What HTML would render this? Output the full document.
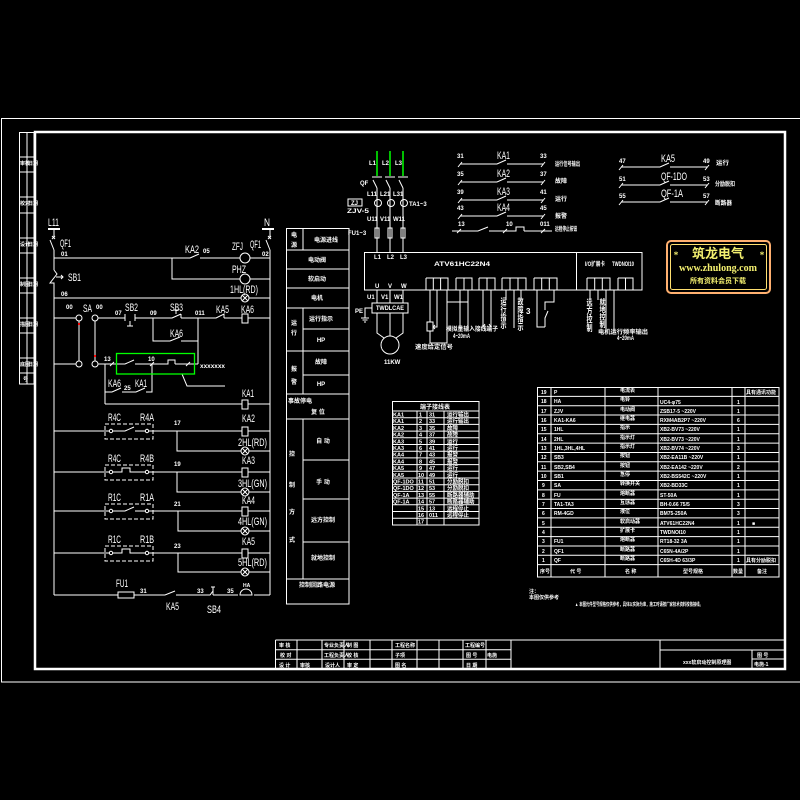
<!DOCTYPE html>
<html><head><meta charset="utf-8"><style>
html,body{margin:0;padding:0;background:#000;}
svg{display:block}
.t{font-family:"Liberation Sans","Noto Sans CJK SC",sans-serif;fill:#fff;font-size:11px}
.s{font-family:"Liberation Sans","Noto Sans CJK SC",sans-serif;fill:#fff;font-size:6px;font-weight:bold}
.c{font-family:"Liberation Sans","Noto Sans CJK SC",sans-serif;fill:#fff;font-size:6px;font-weight:bold}
</style></head><body>
<svg width="800" height="800" viewBox="0 0 800 800" xmlns="http://www.w3.org/2000/svg">
<rect width="800" height="800" fill="#000"/>
<g stroke="#fff" fill="none" stroke-width="1">
<!-- frames -->
<rect x="1.5" y="118.5" width="800" height="563.5"/>
<rect x="35" y="132" width="750" height="537" stroke-width="2.5"/>
<!-- left strip -->
<rect x="19.5" y="132.5" width="14.5" height="251.5"/>
<line x1="27" y1="132" x2="27" y2="384"/>
<path d="M19.5 157H34 M19.5 172H34 M19.5 197H34 M19.5 213H34 M19.5 238H34 M19.5 253H34 M19.5 278H34 M19.5 293H34 M19.5 318H34 M19.5 333H34 M19.5 358H34 M19.5 373H34"/>

<!-- ===== ladder ===== -->
<line x1="48" y1="229" x2="60" y2="229" stroke-width="2"/>
<line x1="262" y1="229" x2="274" y2="229" stroke-width="2"/>
<path d="M54 229V238 M54 250L50 240 M52 236l3 3 M55 236l-3 3 M54 250V270 M54 270L57 274L50 283H54V287 M56 277H63 M61 275L63 277L61 279 M54 287V595"/>
<path d="M270 229V238 M270 250L266 240 M268 236l3 3 M271 236l-3 3 M270 250V595"/>
<!-- row 258 -->
<path d="M54 258H190 M190 258L199 254 M200 258H240 M250 258H270"/>
<circle cx="245" cy="258" r="5"/>
<path d="M172 258V279H240 M250 279H270"/>
<circle cx="245" cy="279" r="5"/>
<path d="M54 298H241 M249 298H270"/>
<circle cx="245" cy="298" r="4"/>
<path d="M242 295L248 301 M248 295L242 301"/>
<!-- row 318 -->
<path d="M54 318H76 M98 318H125 M125 314V321 M135 314V321 M130 321V326 M127 326H133 M135 318H172 M172 318L181 314 M181 314V318 M176 314V310 M174 310H179 M181 318H216 M216 318L224 314V318 M224 318H242 M248 318H270"/>
<circle cx="79" cy="318" r="3"/><circle cx="95" cy="318" r="3"/>
<rect x="242" y="314" width="6" height="9"/>
<path d="M153 318V341H170 L180 337 M181 341H198 M198 318V364"/>
<path d="M79 321V361 M95 321V361"/>
<circle cx="79" cy="364" r="3"/><circle cx="95" cy="364" r="3"/>
<path d="M54 364H76 M98 364H125 L134 360 M135 364H168 V360H175V364 M175 364H198"/>
<path d="M110 366l4-4 M150 366l4-4 M186 366l4-4"/>
<path d="M182 374L187 386H225"/>
<path d="M105 364V404 M105 392H112 L121 388 M122 392H136 L145 388 M146 392H152V364"/>
<path d="M105 404H242 M248 404H270"/>
<rect x="242" y="400" width="6" height="9"/>
<!-- R rows -->
<path d="M54 431H109 M113 431H125 L134 427 M135 431H145 M149 431H242 M248 431H270 M177 431V451H241 M249 451H270"/>
<circle cx="111" cy="431" r="1.7"/><circle cx="147" cy="431" r="1.7"/>
<rect x="242" y="427" width="6" height="9"/>
<circle cx="245" cy="451" r="4"/><path d="M242 448L248 454 M248 448L242 454"/>
<rect x="105" y="424" width="48" height="15" stroke-dasharray="4 2"/>

<path d="M54 472H109 M113 472H122 V468H130V472H145 M149 472H242 M248 472H270 M177 472V492H241 M249 492H270"/>
<circle cx="111" cy="472" r="1.7"/><circle cx="147" cy="472" r="1.7"/>
<rect x="242" y="468" width="6" height="9"/>
<circle cx="245" cy="492" r="4"/><path d="M242 489L248 495 M248 489L242 495"/>
<rect x="105" y="465" width="48" height="15" stroke-dasharray="4 2"/>

<path d="M54 511H109 M113 511H125 L134 507 M135 511H145 M149 511H242 M248 511H270 M178 511V531H241 M249 531H270"/>
<circle cx="111" cy="511" r="1.7"/><circle cx="147" cy="511" r="1.7"/>
<rect x="242" y="507" width="6" height="9"/>
<circle cx="245" cy="531" r="4"/><path d="M242 528L248 534 M248 528L242 534"/>
<rect x="105" y="504" width="48" height="15" stroke-dasharray="4 2"/>

<path d="M54 553H109 M113 553H122 V549H130V553H145 M149 553H242 M248 553H270 M178 553V572H241 M249 572H270"/>
<circle cx="111" cy="553" r="1.7"/><circle cx="147" cy="553" r="1.7"/>
<rect x="242" y="549" width="6" height="9"/>
<circle cx="245" cy="572" r="4"/><path d="M242 569L248 575 M248 569L242 575"/>
<rect x="105" y="546" width="48" height="15" stroke-dasharray="4 2"/>
<!-- bottom row -->
<path d="M54 595H118 M134 595H165 L175 591 M176 595H208 M208 595H210 L213 591 V595 M213 591V587 M211 587H215 M213 595H238 M254 595H270"/>
<rect x="118" y="592" width="16" height="6"/>
<path d="M240 595A6 6 0 0 1 252 595Z"/>

<!-- ===== middle table ===== -->
<rect x="286.5" y="228.5" width="62.5" height="375.5"/>
<path d="M286 250H349 M286 269H349 M286 288H349 M286 308H349 M286 351H349 M286 394H349 M286 419H349 M286 579H349"/>
<path d="M303 329H349 M303 375H349 M303 460H349 M303 499H349 M303 542H349"/>
<path d="M303 228V250 M303 308V394 M303 419V579"/>

<!-- terminal table -->
<rect x="392.5" y="401.5" width="86.5" height="123.5"/>
<path d="M392 411H479 M392 417.7H479 M392 424.4H479 M392 431.1H479 M392 437.8H479 M392 444.5H479 M392 451.2H479 M392 457.9H479 M392 464.6H479 M392 471.3H479 M392 478H479 M392 484.7H479 M392 491.4H479 M392 498.1H479 M392 504.8H479 M392 511.5H479 M392 518.2H479"/>
<path d="M417 411V525 M427 411V525 M444 411V525"/>

<!-- parts table -->
<rect x="537.5" y="387.5" width="241.5" height="189.5"/>
<path d="M537 396.35H779 M537 405.7H779 M537 415.05H779 M537 424.4H779 M537 433.75H779 M537 443.1H779 M537 452.45H779 M537 461.8H779 M537 471.15H779 M537 480.5H779 M537 489.85H779 M537 499.2H779 M537 508.55H779 M537 517.9H779 M537 527.25H779 M537 536.6H779 M537 545.95H779 M537 555.3H779 M537 564.65H779"/>
<path d="M551 387V577 M605 387V577 M658 387V577 M732 387V577 M745 387V577"/>

<!-- title block -->
<path d="M275.5 640H785 M275.5 640V669 M275.5 649.7H511 M275.5 659.3H511 M297 640V669 M322 640V669 M344 640V669 M370 640V669 M392 640V669 M417 640V669 M439 640V669 M463 640V669 M486 640V669 M511 640V669 M660 640V669 M660 650H785 M752 650V669 M752 659H785"/>

<!-- ===== power circuit ===== -->
<path d="M377 151V176 M390 151V176 M403 151V176" stroke="#00ff00" stroke-width="1.5"/>
<path d="M372 177H382 M385 177H395 M398 177H408"/>
<path d="M377 188L373 180 M390 188L386 180 M403 188L399 180"/>
<path d="M377 188V252 M390 188V252 M403 188V252"/>
<circle cx="378" cy="203" r="3.5"/><circle cx="391" cy="203" r="3.5"/><circle cx="404" cy="203" r="3.5"/>
<rect x="375" y="228" width="4" height="10"/><rect x="388" y="228" width="4" height="10"/><rect x="401" y="228" width="4" height="10"/>
<rect x="348" y="199" width="14" height="7"/>
<!-- soft starter box -->
<rect x="364.5" y="252.5" width="277.5" height="37.5"/>
<line x1="576.5" y1="252" x2="576.5" y2="290"/>
<path d="M426 278H448V290 M433.3 278V290 M440.6 278V290 M426 278V290 M456 278H472V290 M464 278V290 M456 278V290 M479 278H495V290 M487 278V290 M479 278V290 M502 278H526V290 M510 278V290 M518 278V290 M502 278V290 M534 278H557V290 M541.7 278V290 M549.3 278V290 M534 278V290 M587 278H610V290 M594.7 278V290 M602.3 278V290 M587 278V290 M618 278H633V290 M625.5 278V290 M618 278V290"/>
<path d="M377 290V303 M390 290V303 M403 290V303"/>
<rect x="372" y="303" width="36" height="10"/>
<path d="M377 313V333L384 338 M390 313V336 M403 313V333L396 338"/>
<circle cx="390" cy="345" r="9"/>
<path d="M372 308H365V318 M361 318H369 M362.5 320H367.5 M364 322H366"/>
<!-- control wiring -->
<path d="M430 290V322 M427 322H433V331H427Z M430 331V343H447V290 M437 290V327H434 M433 327l2-2 M433 327l2 2"/>
<path d="M447 302H468 M460 290V328 M468 290V328 M483 290V327 M491 290V327 M483 327l2-3 M491 327l-2-3"/>
<path d="M506 290V300 M521 290V300 M514 290V328 M537 290V327H545 M545 327V318 L548 311 M545 310V302H554V290"/>
<path d="M590 290V300 M598 290V300 M606 290V332 M614 290V332"/>

<!-- relay output rows -->
<path d="M460 164H497 L506 160 M507 164H543 M460 182H497 L506 178 M507 182H543 M460 200H497 L506 196 M507 200H543 M460 216H497 L506 212 M507 216H543"/>
<path d="M458 167l4-5 M541 167l4-5 M458 185l4-5 M541 185l4-5 M458 203l4-5 M541 203l4-5 M458 219l4-5 M541 219l4-5"/>
<path d="M452 231H478 L488 227 M489 231H516 V227H524V231 M524 231H552 M457 233l4-4 M503 233l4-4 M541 233l4-4"/>
<path d="M621 167H660 L669 163 M670 167H707 M621 185H660 L669 181 M670 185H707 M621 202H660 L669 198 M670 202H707"/>
<path d="M619 170l4-5 M705 170l4-5 M619 188l4-5 M705 188l4-5 M619 205l4-5 M705 205l4-5"/>
</g>

<!-- green highlight and red marks -->
<rect x="116.5" y="353.5" width="78" height="20.5" fill="none" stroke="#00ff00" stroke-width="1.3"/>
<rect x="78" y="323" width="2" height="2" fill="#ff0000"/>
<rect x="94" y="355" width="2" height="2" fill="#ff0000"/>

<!-- logo -->
<rect x="667" y="241" width="103" height="52" rx="4" fill="none" stroke="#ffb070" stroke-width="2"/>
<rect x="670.5" y="244.5" width="96" height="45" rx="2" fill="none" stroke="#ffe070" stroke-width="1"/>
<g font-family="'Liberation Serif','Noto Serif CJK SC',serif" font-weight="bold" fill="#f4f070" text-anchor="middle">
<text x="676" y="258" font-size="9">*</text>
<text x="762" y="258" font-size="9">*</text>
<text x="718" y="258" font-size="13" font-family="'Noto Sans CJK SC',sans-serif">筑龙电气</text>
<text x="718" y="271" font-size="10" textLength="78" lengthAdjust="spacingAndGlyphs">www.zhulong.com</text>
<text x="718" y="283" font-size="7" font-family="'Noto Sans CJK SC',sans-serif">所有资料会员下载</text>
</g>

<!-- ===== ladder labels ===== -->
<g class="t">
<text x="48" y="226" textLength="11" lengthAdjust="spacingAndGlyphs">L11</text>
<text x="264" y="226" textLength="6" lengthAdjust="spacingAndGlyphs">N</text>
<text x="60" y="247" textLength="11" lengthAdjust="spacingAndGlyphs">QF1</text>
<text x="185" y="253" textLength="14" lengthAdjust="spacingAndGlyphs">KA2</text>
<text x="232" y="250" textLength="11" lengthAdjust="spacingAndGlyphs">ZFJ</text>
<text x="250" y="248" textLength="11" lengthAdjust="spacingAndGlyphs">QF1</text>
<text x="232" y="273" textLength="14" lengthAdjust="spacingAndGlyphs">PHZ</text>
<text x="68" y="281" textLength="13" lengthAdjust="spacingAndGlyphs">SB1</text>
<text x="230" y="293" textLength="28" lengthAdjust="spacingAndGlyphs">1HL(RD)</text>
<text x="83" y="312" textLength="9" lengthAdjust="spacingAndGlyphs">SA</text>
<text x="125" y="311" textLength="13" lengthAdjust="spacingAndGlyphs">SB2</text>
<text x="170" y="311" textLength="13" lengthAdjust="spacingAndGlyphs">SB3</text>
<text x="216" y="313" textLength="13" lengthAdjust="spacingAndGlyphs">KA5</text>
<text x="241" y="313" textLength="13" lengthAdjust="spacingAndGlyphs">KA6</text>
<text x="170" y="337" textLength="13" lengthAdjust="spacingAndGlyphs">KA6</text>
<text x="108" y="387" textLength="13" lengthAdjust="spacingAndGlyphs">KA6</text>
<text x="135" y="387" textLength="12" lengthAdjust="spacingAndGlyphs">KA1</text>
<text x="242" y="397" textLength="12" lengthAdjust="spacingAndGlyphs">KA1</text>
<text x="108" y="421" textLength="13" lengthAdjust="spacingAndGlyphs">R4C</text>
<text x="140" y="421" textLength="14" lengthAdjust="spacingAndGlyphs">R4A</text>
<text x="242" y="422" textLength="13" lengthAdjust="spacingAndGlyphs">KA2</text>
<text x="238" y="446" textLength="29" lengthAdjust="spacingAndGlyphs">2HL(RD)</text>
<text x="108" y="462" textLength="13" lengthAdjust="spacingAndGlyphs">R4C</text>
<text x="140" y="462" textLength="14" lengthAdjust="spacingAndGlyphs">R4B</text>
<text x="242" y="464" textLength="13" lengthAdjust="spacingAndGlyphs">KA3</text>
<text x="238" y="487" textLength="29" lengthAdjust="spacingAndGlyphs">3HL(GN)</text>
<text x="108" y="501" textLength="13" lengthAdjust="spacingAndGlyphs">R1C</text>
<text x="140" y="501" textLength="14" lengthAdjust="spacingAndGlyphs">R1A</text>
<text x="242" y="504" textLength="13" lengthAdjust="spacingAndGlyphs">KA4</text>
<text x="238" y="525" textLength="29" lengthAdjust="spacingAndGlyphs">4HL(GN)</text>
<text x="108" y="543" textLength="13" lengthAdjust="spacingAndGlyphs">R1C</text>
<text x="140" y="543" textLength="14" lengthAdjust="spacingAndGlyphs">R1B</text>
<text x="242" y="545" textLength="13" lengthAdjust="spacingAndGlyphs">KA5</text>
<text x="238" y="566" textLength="29" lengthAdjust="spacingAndGlyphs">5HL(RD)</text>
<text x="116" y="587" textLength="12" lengthAdjust="spacingAndGlyphs">FU1</text>
<text x="166" y="610" textLength="13" lengthAdjust="spacingAndGlyphs">KA5</text>
<text x="207" y="613" textLength="14" lengthAdjust="spacingAndGlyphs">SB4</text>
<text x="497" y="159" textLength="13" lengthAdjust="spacingAndGlyphs">KA1</text>
<text x="497" y="177" textLength="13" lengthAdjust="spacingAndGlyphs">KA2</text>
<text x="497" y="195" textLength="13" lengthAdjust="spacingAndGlyphs">KA3</text>
<text x="497" y="211" textLength="13" lengthAdjust="spacingAndGlyphs">KA4</text>
<text x="661" y="162" textLength="14" lengthAdjust="spacingAndGlyphs">KA5</text>
<text x="661" y="180" textLength="26" lengthAdjust="spacingAndGlyphs">QF-1DO</text>
<text x="661" y="197" textLength="22" lengthAdjust="spacingAndGlyphs">QF-1A</text>
</g>
<g class="t" style="font-size:6px;font-weight:bold">
<text x="61" y="256">01</text><text x="203" y="253">05</text><text x="262" y="256">02</text>
<text x="61" y="296">06</text><text x="115" y="315">07</text><text x="150" y="315">09</text><text x="195" y="315">011</text>
<text x="104" y="361">13</text><text x="148" y="361">10</text><text x="124" y="390">25</text>
<text x="174" y="425">17</text><text x="174" y="466">19</text><text x="174" y="506">21</text><text x="174" y="548">23</text>
<text x="140" y="593">31</text><text x="197" y="593">33</text><text x="227" y="593">35</text><text x="243" y="587" font-size="5">HA</text>
<text x="457" y="158">31</text><text x="540" y="158">33</text>
<text x="457" y="176">35</text><text x="540" y="176">37</text>
<text x="457" y="194">39</text><text x="540" y="194">41</text>
<text x="457" y="210">43</text><text x="540" y="210">45</text>
<text x="458" y="226">13</text><text x="506" y="226">10</text><text x="540" y="226">011</text>
<text x="619" y="163">47</text><text x="703" y="163">49</text>
<text x="619" y="181">51</text><text x="703" y="181">53</text>
<text x="619" y="198">55</text><text x="703" y="198">57</text>
</g>
<g class="s">
<text x="66" y="309">00</text><text x="96" y="309">00</text>
<text x="200" y="368" textLength="25" lengthAdjust="spacingAndGlyphs">xxxxxxx</text>
<text x="555" y="166" textLength="25" lengthAdjust="spacingAndGlyphs">运行信号输出</text>
<text x="555" y="183" textLength="12" lengthAdjust="spacingAndGlyphs">故障</text>
<text x="555" y="201" textLength="12" lengthAdjust="spacingAndGlyphs">运行</text>
<text x="555" y="218" textLength="12" lengthAdjust="spacingAndGlyphs">报警</text>
<text x="555" y="231" textLength="22" lengthAdjust="spacingAndGlyphs">远程停止按钮</text>
<text x="716" y="165" textLength="13" lengthAdjust="spacingAndGlyphs">运行</text>
<text x="715" y="186" textLength="20" lengthAdjust="spacingAndGlyphs">分励脱扣</text>
<text x="715" y="205" textLength="17" lengthAdjust="spacingAndGlyphs">断路器</text>
<!-- power labels -->
<text x="369" y="165">L1</text><text x="382" y="165">L2</text><text x="395" y="165">L3</text>
<text x="360" y="185">QF</text>
<text x="367" y="196">L11</text><text x="380" y="196">L21</text><text x="393" y="196">L31</text>
<text x="409" y="206">TA1~3</text>
<text x="351" y="205">ZJ</text>
<text x="347" y="213" textLength="22" lengthAdjust="spacingAndGlyphs">ZJV-5</text>
<text x="367" y="221">U11</text><text x="380" y="221">V11</text><text x="393" y="221">W11</text>
<text x="348" y="235">FU1~3</text>
<text x="374" y="259">L1</text><text x="387" y="259">L2</text><text x="400" y="259">L3</text>
<text x="434" y="266" textLength="56" lengthAdjust="spacingAndGlyphs">ATV61HC22N4</text>
<text x="585" y="266" textLength="20" lengthAdjust="spacingAndGlyphs">I/O扩展卡</text>
<text x="612" y="266" textLength="22" lengthAdjust="spacingAndGlyphs">TWDNOI10</text>
<text x="375" y="288">U</text><text x="388" y="288">V</text><text x="401" y="288">W</text>
<text x="367" y="299">U1</text><text x="381" y="299">V1</text><text x="394" y="299">W1</text>
<text x="376" y="310" textLength="28" lengthAdjust="spacingAndGlyphs">TWDLCAE</text>
<text x="355" y="313">PE</text>
<text x="384" y="364">11KW</text>
<text x="446" y="331" textLength="52" lengthAdjust="spacingAndGlyphs">模拟量输入接线端子</text>
<text x="453" y="338" textLength="17" lengthAdjust="spacingAndGlyphs">4~20mA</text>
<text x="415" y="349" textLength="38" lengthAdjust="spacingAndGlyphs">速度给定信号</text>
<text x="526" y="314" font-size="8">3</text>
<text x="598" y="334" textLength="50" lengthAdjust="spacingAndGlyphs">电机运行频率输出</text>
<text x="617" y="340" textLength="17" lengthAdjust="spacingAndGlyphs">4~20mA</text>
</g>
<g class="s" writing-mode="tb">
<text x="502" y="297" textLength="32" lengthAdjust="spacingAndGlyphs">运行指示</text>
<text x="519" y="297" textLength="34" lengthAdjust="spacingAndGlyphs">故障指示</text>
<text x="588" y="298" textLength="34" lengthAdjust="spacingAndGlyphs">远方控制</text>
<text x="601" y="298" textLength="30" lengthAdjust="spacingAndGlyphs">就地控制</text>
</g>
<!-- left strip labels -->
<g class="s" style="font-size:5px">
<text x="20" y="165">审核</text><text x="28" y="165">日期</text>
<text x="20" y="205">校对</text><text x="28" y="205">日期</text>
<text x="20" y="246">设计</text><text x="28" y="246">日期</text>
<text x="20" y="286">制图</text><text x="28" y="286">日期</text>
<text x="20" y="326">描图</text><text x="28" y="326">日期</text>
<text x="20" y="366">底图</text><text x="28" y="366">日期</text>
<text x="23" y="381">号</text>
</g>
<!-- middle table text -->
<g class="c" text-anchor="middle">
<text x="294" y="237">电</text><text x="294" y="247">源</text>
<text x="326" y="242">电源进线</text>
<text x="317" y="262">电动阀</text>
<text x="317" y="281">软启动</text>
<text x="317" y="300">电机</text>
<text x="294" y="325">运</text><text x="294" y="335">行</text>
<text x="321" y="321">运行指示</text>
<text x="321" y="342">HP</text>
<text x="294" y="371">报</text><text x="294" y="384">警</text>
<text x="321" y="364">故障</text>
<text x="321" y="386">HP</text>
<text x="300" y="403">事故停电</text>
<text x="318" y="414">复 位</text>
<text x="292" y="456">控</text><text x="292" y="487">制</text><text x="292" y="514">方</text><text x="292" y="542">式</text>
<text x="323" y="443">自 动</text>
<text x="323" y="484">手 动</text>
<text x="323" y="522">远方控制</text>
<text x="323" y="560">就地控制</text>
<text x="317" y="587">控制回路电源</text>
<!-- terminal table -->
<text x="435" y="409">端子接线表</text>
</g>
<g class="c" style="font-size:5.5px">
<text x="393" y="416.5">KA1</text><text x="419" y="416.5">1</text><text x="429" y="416.5">31</text><text x="447" y="416.5">运行输出</text>
<text x="393" y="423.2">KA1</text><text x="419" y="423.2">2</text><text x="429" y="423.2">33</text><text x="447" y="423.2">运行输出</text>
<text x="393" y="429.9">KA2</text><text x="419" y="429.9">3</text><text x="429" y="429.9">35</text><text x="447" y="429.9">故障</text>
<text x="393" y="436.6">KA2</text><text x="419" y="436.6">4</text><text x="429" y="436.6">37</text><text x="447" y="436.6">故障</text>
<text x="393" y="443.3">KA3</text><text x="419" y="443.3">5</text><text x="429" y="443.3">39</text><text x="447" y="443.3">运行</text>
<text x="393" y="450">KA3</text><text x="419" y="450">6</text><text x="429" y="450">41</text><text x="447" y="450">运行</text>
<text x="393" y="456.7">KA4</text><text x="419" y="456.7">7</text><text x="429" y="456.7">43</text><text x="447" y="456.7">报警</text>
<text x="393" y="463.4">KA4</text><text x="419" y="463.4">8</text><text x="429" y="463.4">45</text><text x="447" y="463.4">报警</text>
<text x="393" y="470.1">KA5</text><text x="419" y="470.1">9</text><text x="429" y="470.1">47</text><text x="447" y="470.1">运行</text>
<text x="393" y="476.8">KA5</text><text x="418" y="476.8">10</text><text x="429" y="476.8">49</text><text x="447" y="476.8">运行</text>
<text x="393" y="483.5">QF-1DO</text><text x="418" y="483.5">11</text><text x="429" y="483.5">51</text><text x="447" y="483.5">分励脱扣</text>
<text x="393" y="490.2">QF-1DO</text><text x="418" y="490.2">12</text><text x="429" y="490.2">53</text><text x="447" y="490.2">分励脱扣</text>
<text x="393" y="496.9">QF-1A</text><text x="418" y="496.9">13</text><text x="429" y="496.9">55</text><text x="447" y="496.9">断路器辅助</text>
<text x="393" y="503.6">QF-1A</text><text x="418" y="503.6">14</text><text x="429" y="503.6">57</text><text x="447" y="503.6">断路器辅助</text>
<text x="418" y="510.3">15</text><text x="429" y="510.3">13</text><text x="447" y="510.3">远程停止</text>
<text x="418" y="517">16</text><text x="429" y="517">011</text><text x="447" y="517">远程停止</text>
<text x="418" y="523.7">17</text>
</g>
<!-- parts table text -->
<g class="c" style="font-size:5px">
<text x="541" y="394">19</text><text x="554" y="394">P</text><text x="620" y="392">电流表</text><text x="746" y="394">具有通讯功能</text>
<text x="541" y="403">18</text><text x="554" y="403">HA</text><text x="620" y="401">电铃</text><text x="660" y="404">UC4-φ75</text><text x="737" y="404">1</text>
<text x="541" y="413">17</text><text x="554" y="413">ZJV</text><text x="620" y="411">电动阀</text><text x="660" y="413">ZSB17-5 ~220V</text><text x="737" y="413">1</text>
<text x="541" y="422">16</text><text x="554" y="422">KA1-KA6</text><text x="620" y="420">继电器</text><text x="660" y="422">RXM4AB2P7 ~220V</text><text x="737" y="422">6</text>
<text x="541" y="431">15</text><text x="554" y="431">1HL</text><text x="620" y="429">指示</text><text x="660" y="431">XB2-BV73 ~220V</text><text x="737" y="431">1</text>
<text x="541" y="441">14</text><text x="554" y="441">2HL</text><text x="620" y="439">指示灯</text><text x="660" y="441">XB2-BV73 ~220V</text><text x="737" y="441">1</text>
<text x="541" y="450">13</text><text x="554" y="450">1HL,3HL,4HL</text><text x="620" y="448">指示灯</text><text x="660" y="450">XB2-BV74 ~220V</text><text x="737" y="450">3</text>
<text x="541" y="459">12</text><text x="554" y="459">SB3</text><text x="620" y="457">按钮</text><text x="660" y="459">XB2-EA11B ~220V</text><text x="737" y="459">1</text>
<text x="541" y="469">11</text><text x="554" y="469">SB2,SB4</text><text x="620" y="467">按钮</text><text x="660" y="469">XB2-EA142 ~220V</text><text x="737" y="469">2</text>
<text x="541" y="478">10</text><text x="554" y="478">SB1</text><text x="620" y="476">急停</text><text x="660" y="478">XB2-BS542C ~220V</text><text x="737" y="478">1</text>
<text x="542" y="487">9</text><text x="554" y="487">SA</text><text x="620" y="485">转换开关</text><text x="660" y="487">XB2-BD33C</text><text x="737" y="487">1</text>
<text x="542" y="497">8</text><text x="554" y="497">FU</text><text x="620" y="495">熔断器</text><text x="660" y="497">ST-50A</text><text x="737" y="497">1</text>
<text x="542" y="506">7</text><text x="554" y="506">TA1-TA3</text><text x="620" y="504">互感器</text><text x="660" y="506">BH-0.66 75/5</text><text x="737" y="506">3</text>
<text x="542" y="515">6</text><text x="554" y="515">RM-4GD</text><text x="620" y="513">液位</text><text x="660" y="515">BM75-250A</text><text x="737" y="515">3</text>
<text x="542" y="525">5</text><text x="620" y="523">软启动器</text><text x="660" y="525">ATV61HC22N4</text><text x="737" y="525">1</text><text x="752" y="525">■</text>
<text x="542" y="534">4</text><text x="620" y="532">扩展卡</text><text x="660" y="534">TWDNOI10</text><text x="737" y="534">1</text>
<text x="542" y="543">3</text><text x="554" y="543">FU1</text><text x="620" y="541">熔断器</text><text x="660" y="543">RT18-32 3A</text><text x="737" y="543">1</text>
<text x="542" y="553">2</text><text x="554" y="553">QF1</text><text x="620" y="551">断路器</text><text x="660" y="553">C65N-4A/2P</text><text x="737" y="553">1</text>
<text x="542" y="562">1</text><text x="554" y="562">QF</text><text x="620" y="560">断路器</text><text x="660" y="562">C65H-4D 63/3P</text><text x="737" y="562">1</text><text x="746" y="562">具有分励脱扣</text>
<text x="540" y="573">序号</text><text x="570" y="573">代 号</text><text x="625" y="573">名 称</text><text x="683" y="573">型号规格</text><text x="733" y="573">数量</text><text x="757" y="573">备注</text>
</g>
<!-- notes -->
<g class="c" style="font-size:5px">
<text x="529" y="593">注：</text>
<text x="529" y="599" textLength="30" lengthAdjust="spacingAndGlyphs">本图仅供参考</text>
<text x="575" y="606" textLength="128" lengthAdjust="spacingAndGlyphs">▲ 本图元件型号规格仅供参考，具体以实际为准，施工时请按厂家技术资料校核接线。</text>
</g>
<!-- title block text -->
<g class="c" style="font-size:5px">
<text x="279" y="647">审 核</text><text x="280" y="657">校 对</text><text x="279" y="667">设 计</text>
<text x="300" y="667">审核</text>
<text x="324" y="647">专业负责人</text><text x="324" y="657">工程负责人</text><text x="325" y="667">设计人</text>
<text x="347" y="647">制 图</text><text x="347" y="657">校 核</text><text x="347" y="667">审 定</text>
<text x="395" y="647">工程名称</text><text x="395" y="657">子项</text><text x="395" y="667">图 名</text>
<text x="465" y="647">工程编号</text><text x="466" y="657">图 号</text><text x="466" y="667">日 期</text>
<text x="487" y="657">电施</text>
<text x="683" y="664">xxx软启动控制原理图</text>
<text x="757" y="657">图 号</text>
<text x="754" y="666">电施-1</text>
</g>
</svg>
</body></html>
